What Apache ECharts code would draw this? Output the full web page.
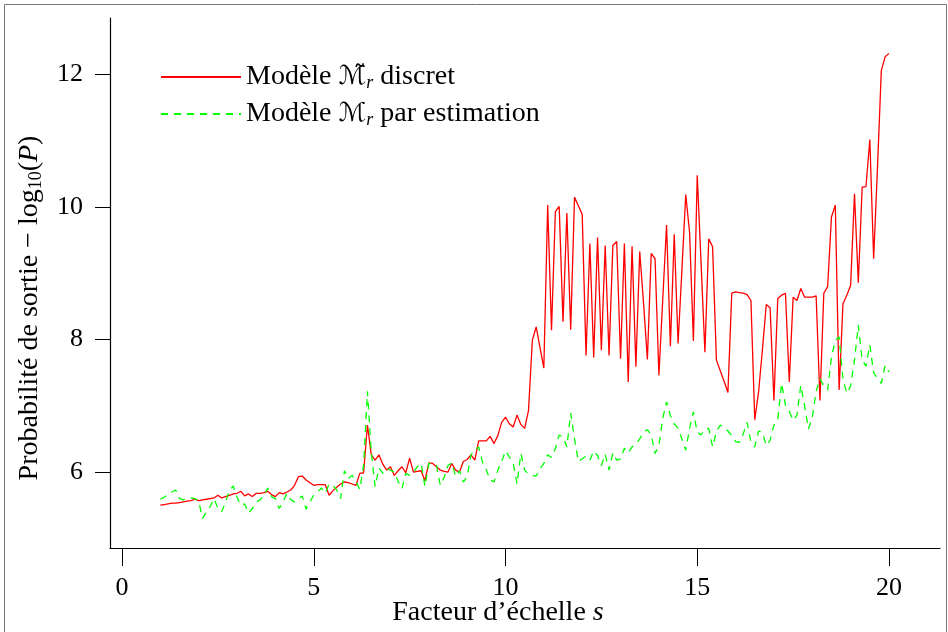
<!DOCTYPE html>
<html>
<head>
<meta charset="utf-8">
<script src="https://cdn.jsdelivr.net/npm/echarts@6/dist/echarts.min.js"></script>
<style>
  html, body { margin: 0; padding: 0; background: #fff; }
  #chart { width: 948px; height: 632px; }
</style>
</head>
<body>
<div id="chart"></div>
<script>
// facteur d'échelle s : 1.0, 1.1, ... 20.0
const sValues = [];
for (let i = 0; i <= 190; i++) sValues.push(+(1 + i * 0.1).toFixed(1));

// Modèle M~r discret (rouge)
const discret = [
  5.50, 5.51, 5.52, 5.53, 5.53, 5.54, 5.55, 5.56, 5.57, 5.59,
  5.57, 5.58, 5.59, 5.60, 5.61, 5.65, 5.61, 5.63, 5.65, 5.67,
  5.68, 5.71, 5.64, 5.67, 5.63, 5.68, 5.68, 5.69, 5.71, 5.66,
  5.63, 5.69, 5.67, 5.70, 5.73, 5.80, 5.93, 5.94, 5.88, 5.84,
  5.80, 5.81, 5.81, 5.81, 5.65, 5.72, 5.77, 5.82, 5.85, 5.84,
  5.82, 5.80, 5.98, 5.99, 6.71, 6.26, 6.18, 6.26, 6.12, 6.03,
  6.08, 5.95, 6.02, 6.08, 5.99, 6.21, 6.00, 6.01, 6.02, 5.87,
  6.14, 6.13, 6.08, 6.03, 6.01, 6.00, 6.13, 6.03, 6.00, 6.16,
  6.19, 6.26, 6.18, 6.47, 6.47, 6.47, 6.54, 6.43, 6.55, 6.75,
  6.83, 6.73, 6.68, 6.86, 6.72, 6.66, 6.93, 7.99, 8.19, 7.88,
  7.57, 10.03, 8.14, 9.93, 10.01, 8.27, 9.91, 8.15, 10.15, 10.02,
  9.89, 7.76, 9.45, 7.73, 9.54, 7.84, 9.42, 7.76, 9.42, 9.48,
  7.71, 9.45, 7.36, 9.41, 7.59, 9.33, 8.55, 7.70, 9.30, 9.22,
  7.46, 8.60, 9.73, 7.90, 9.59, 7.94, 9.05, 10.19, 9.62, 7.98,
  10.48, 9.15, 7.81, 9.52, 9.40, 7.69, 7.53, 7.37, 7.20, 8.70,
  8.72, 8.71, 8.70, 8.68, 8.59, 6.79, 7.21, 7.85, 8.53, 8.48,
  7.08, 8.62, 8.67, 8.70, 7.36, 8.64, 8.59, 8.77, 8.64, 8.64,
  8.64, 8.66, 7.08, 8.70, 8.80, 9.85, 10.03, 7.24, 8.54, 8.67,
  8.82, 10.20, 8.86, 10.30, 10.31, 11.02, 9.22, 10.60, 12.06, 12.27,
  12.32
];

// Modèle Mr par estimation (vert, tirets)
const estimation = [
  5.59, 5.62, 5.66, 5.70, 5.73, 5.60, 5.58, 5.60, 5.61, 5.60,
  5.56, 5.30, 5.40, 5.48, 5.60, 5.45, 5.40, 5.55, 5.72, 5.79,
  5.62, 5.50, 5.52, 5.38, 5.45, 5.55, 5.58, 5.65, 5.76, 5.63,
  5.60, 5.45, 5.55, 5.68, 5.58, 5.55, 5.60, 5.64, 5.44, 5.55,
  5.65, 5.70, 5.76, 5.68, 5.82, 5.80, 5.73, 5.60, 6.02, 5.90,
  5.95, 5.86, 5.74, 6.10, 7.22, 6.30, 5.78, 6.06, 5.98, 6.05,
  6.03, 6.00, 5.86, 5.75, 5.98, 5.95, 6.00, 6.08, 6.13, 5.78,
  6.13, 6.12, 6.10, 5.80, 5.92, 6.10, 6.14, 5.93, 6.02, 5.85,
  5.93, 6.26, 6.33, 6.38, 6.15, 6.03, 5.88, 5.85, 6.03, 6.16,
  6.32, 6.23, 6.14, 5.82, 6.28, 6.03, 5.97, 5.95, 5.94, 6.05,
  6.13, 6.26, 6.22, 6.36, 6.56, 6.53, 6.38, 6.89, 6.50, 6.16,
  6.20, 6.24, 6.18, 6.32, 6.25, 6.10, 6.27, 6.03, 6.29, 6.18,
  6.20, 6.36, 6.29, 6.38, 6.42, 6.50, 6.60, 6.64, 6.56, 6.28,
  6.40, 6.81, 7.06, 6.85, 6.73, 6.66, 6.50, 6.33, 6.66, 6.91,
  6.60, 6.56, 6.65, 6.66, 6.38, 6.61, 6.71, 6.67, 6.62, 6.55,
  6.46, 6.45, 6.58, 6.75, 6.45, 6.38, 6.62, 6.60, 6.40, 6.48,
  6.71, 6.80, 7.34, 7.01, 6.92, 6.78, 6.86, 7.31, 7.00, 6.65,
  6.83, 7.22, 7.41, 7.30, 7.24, 7.74, 7.99, 8.04, 7.40, 7.19,
  7.30, 7.69, 8.22, 7.69, 7.60, 7.92, 7.50, 7.41, 7.34, 7.61,
  7.51
];

const xTicks = [0, 5, 10, 15, 20];
const yTicks = [6, 8, 10, 12];

const serif = '"Liberation Serif", "DejaVu Serif", serif';
const chart = echarts.init(document.getElementById('chart'));

const option = {
  animation: false,
  backgroundColor: '#fff',
  textStyle: { fontFamily: serif, color: '#000' },
  grid: { left: 110, right: 8, top: 18, bottom: 84 },
  legend: {
    orient: 'vertical',
    left: 160,
    top: 63,
    padding: 0,
    itemWidth: 80,
    itemHeight: 14,
    itemGap: 8,
    data: ['discret', 'estimation'],
    itemStyle: { color: 'rgba(0,0,0,0)', borderWidth: 0 },
    formatter: function (name) {
      if (name === 'discret') return '{t|Modèle }{m|ℳ\u0303}{sub|r}{t| discret}';
      return '{t|Modèle }{m|ℳ}{sub|r}{t| par estimation}';
    },
    textStyle: {
      color: '#000',
      rich: {
        t: { fontFamily: serif, fontSize: 28, color: '#000' },
        m: { fontFamily: '"DejaVu Sans", serif', fontSize: 26, color: '#000' },
        sub: { fontFamily: serif, fontStyle: 'italic', fontSize: 18, color: '#000', padding: [12, 0, 0, 0] }
      }
    }
  },
  xAxis: {
    type: 'value',
    min: -0.313,
    max: 21.33,
    axisLine: { show: true, onZero: false, lineStyle: { color: '#000', width: 1.2 } },
    axisTick: { show: true, length: 18, customValues: xTicks, lineStyle: { color: '#000', width: 1 } },
    axisLabel: { customValues: xTicks, margin: 27, fontSize: 26, fontFamily: serif, color: '#000' },
    splitLine: { show: false }
  },
  yAxis: {
    type: 'value',
    min: 4.854,
    max: 12.854,
    axisLine: { show: true, onZero: false, lineStyle: { color: '#000', width: 1.2 } },
    axisTick: { show: true, length: 15, customValues: yTicks, lineStyle: { color: '#000', width: 1 } },
    axisLabel: { customValues: yTicks, margin: 27, fontSize: 26, fontFamily: serif, color: '#000' },
    splitLine: { show: false }
  },
  graphic: [
    {
      type: 'rect',
      shape: { x: 4.5, y: 4.5, width: 942, height: 640 },
      style: { fill: 'none', stroke: '#777', lineWidth: 1 },
      silent: true
    },
    {
      type: 'text',
      x: 498,
      y: 613,
      style: {
        text: '{t|Facteur d’échelle }{i|s}',
        align: 'center',
        verticalAlign: 'middle',
        rich: {
          t: { fontFamily: serif, fontSize: 28, fill: '#000' },
          i: { fontFamily: serif, fontStyle: 'italic', fontSize: 28, fill: '#000' }
        }
      }
    },
    {
      type: 'text',
      x: 30,
      y: 308,
      rotation: Math.PI / 2,
      style: {
        text: '{t|Probabilité de sortie − log}{sub|10}{t|(}{i|P}{t|)}',
        align: 'center',
        verticalAlign: 'middle',
        rich: {
          t: { fontFamily: serif, fontSize: 28, fill: '#000' },
          i: { fontFamily: serif, fontStyle: 'italic', fontSize: 28, fill: '#000' },
          sub: { fontFamily: serif, fontSize: 18, fill: '#000', padding: [12, 0, 0, 0] }
        }
      }
    }
  ],
  series: [
    {
      name: 'discret',
      type: 'line',
      data: sValues.map((s, i) => [s, discret[i]]),
      symbol: 'none',
      showSymbol: false,
      lineStyle: { color: '#ff0000', width: 1.3 },
      itemStyle: { color: '#ff0000' }
    },
    {
      name: 'estimation',
      type: 'line',
      data: sValues.map((s, i) => [s, estimation[i]]),
      symbol: 'none',
      showSymbol: false,
      lineStyle: { color: '#00ff00', width: 1.3, type: [7, 6] },
      itemStyle: { color: '#00ff00' }
    }
  ]
};

chart.setOption(option);
</script>
</body>
</html>
